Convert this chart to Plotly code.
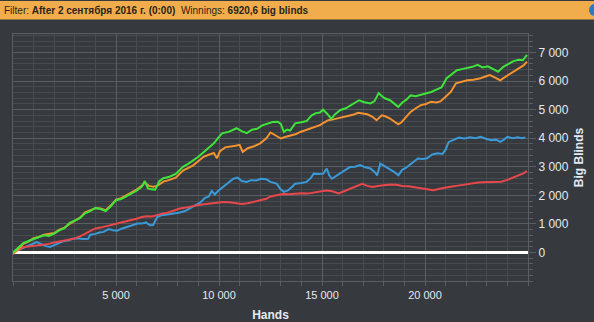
import plotly.graph_objects as go

# ---------------- data ----------------
green_x = [0,250,500,750,1000,1250,1500,1750,2000,2250,2500,2750,3000,3250,3500,3750,4000,4250,4500,4750,
           5000,5250,5500,5750,6000,6250,6400,6550,6700,6900,7100,7300,7600,7900,8250,8500,8750,9000,9250,9500,
           9750,10000,10150,10500,10850,11100,11350,11600,11850,12100,12350,12600,12850,13000,13150,13300,13450,13700,14000,14250,
           14500,14700,14900,15050,15250,15450,15650,15900,16150,16400,16650,16800,17050,17350,17550,17750,17900,18050,18300,18500,
           18700,18900,19100,19300,19550,19800,20050,20300,20550,20800,21050,21300,21550,21800,22050,22300,22550,22800,23050,23300,
           23550,23800,24050,24300,24550,24750,24950]
green_y = [0,150,330,400,470,520,600,580,660,770,850,1040,1110,1200,1370,1450,1560,1520,1450,1620,
           1830,1870,1960,2060,2160,2300,2500,2240,2210,2200,2500,2600,2650,2750,3000,3100,3220,3350,3510,3680,
           3820,4050,4170,4230,4350,4250,4180,4300,4330,4450,4520,4570,4580,4500,4220,4300,4270,4520,4560,4600,
           4800,4880,4900,5000,4860,4680,4850,4990,5050,5160,5280,5330,5260,5220,5300,5580,5480,5400,5330,5200,
           5100,5250,5350,5500,5470,5520,5560,5620,5700,5780,6100,6250,6380,6420,6460,6500,6570,6480,6520,6430,
           6330,6500,6600,6700,6750,6730,6920]

orange_x = [0,250,500,750,1000,1250,1500,1750,2000,2250,2500,2750,3000,3250,3500,3750,4000,4250,4500,4750,
            5000,5250,5500,5750,6000,6250,6400,6600,6800,7000,7300,7600,7900,8250,8500,8750,9000,9250,9500,9750,
            9900,10050,10300,10550,10800,11000,11150,11400,11700,12000,12300,12500,12750,13000,13250,13500,13750,13950,14200,14450,
            14700,14900,15100,15300,15550,15750,16000,16200,16500,16750,17000,17200,17450,17650,17900,18100,18300,18500,18700,18850,
            19050,19300,19550,19800,20050,20300,20550,20750,21000,21250,21500,21800,22050,22350,22700,23000,23150,23400,23650,23900,
            24150,24400,24600,24800,24950]
orange_y = [-50,100,300,380,500,540,620,650,680,800,870,1000,1100,1220,1400,1470,1550,1540,1480,1650,
            1850,1900,2000,2100,2200,2330,2450,2330,2300,2330,2480,2540,2620,2870,2950,3050,3200,3350,3420,3480,
            3300,3550,3680,3700,3740,3770,3520,3650,3720,3820,4000,4200,4100,3990,4050,4100,4150,4220,4280,4340,
            4400,4460,4550,4630,4660,4690,4720,4750,4820,4890,4870,4840,4750,4630,4800,4760,4690,4600,4490,4550,
            4700,4920,5050,5160,5200,5280,5250,5290,5450,5620,5920,5980,6030,6050,6100,6180,6210,6120,6030,6150,
            6270,6380,6470,6560,6680]

blue_x = [0,250,500,750,1000,1150,1400,1600,1800,2000,2150,2400,2650,2900,3150,3400,3650,3750,4000,4200,
          4400,4650,4850,5050,5300,5550,5800,6050,6250,6450,6650,6800,7000,7200,7500,7800,8100,8350,8600,8850,
          9100,9300,9500,9650,9800,9950,10200,10450,10700,10900,11100,11350,11550,11800,12050,12300,12500,12800,13000,13150,
          13350,13550,13700,14000,14250,14450,14600,14850,15070,15230,15350,15480,15700,15900,16150,16350,16600,16850,17100,17350,
          17550,17680,17830,18050,18250,18500,18710,18900,19050,19250,19450,19650,19900,20100,20350,20600,20850,21000,21150,21400,
          21650,21900,22200,22450,22700,22950,23200,23450,23650,23850,24000,24250,24500,24700,24870]
blue_y = [0,80,150,250,330,360,280,220,190,260,300,380,420,480,500,470,480,620,650,700,
          720,820,780,760,840,890,950,1010,1010,1050,950,960,1240,1300,1330,1360,1400,1450,1560,1650,
          1750,1900,1960,2150,2030,2150,2300,2420,2580,2620,2500,2470,2530,2520,2580,2560,2470,2410,2200,2120,
          2170,2300,2410,2430,2470,2600,2760,2750,2760,2940,2700,2580,2680,2760,2880,2990,3000,3060,2980,2940,
          2820,2700,3110,3020,2940,2820,2700,2900,2950,3060,3180,3290,3270,3300,3430,3470,3450,3600,3870,3950,
          4020,3990,4030,4000,4050,3980,3930,3950,3870,3960,4050,4000,4030,4000,4030]

red_x = [0,250,500,750,1000,1250,1500,1750,2000,2250,2500,2750,3000,3250,3500,3750,4000,4250,4500,4750,
         5000,5250,5500,5750,6000,6250,6500,6750,7000,7250,7500,7800,8100,8400,8700,9000,9300,9600,9900,10200,
         10500,10800,11100,11400,11700,12000,12300,12500,12800,13100,13400,13700,14000,14300,14600,14900,15200,15500,15800,16100,
         16400,16700,16950,17200,17450,17700,18000,18300,18600,18900,19200,19500,19800,20100,20400,20700,21000,21300,21600,21900,
         22200,22500,22800,23100,23400,23700,24000,24300,24600,24800,24950]
red_y = [0,100,180,210,230,250,270,300,350,380,410,450,490,560,650,760,840,870,920,960,
         1000,1050,1090,1130,1180,1240,1270,1260,1320,1360,1390,1470,1540,1570,1620,1660,1690,1720,1740,1770,
         1760,1720,1700,1720,1770,1820,1880,1960,2010,2050,2040,2060,2070,2060,2100,2140,2170,2140,2070,2150,
         2230,2330,2400,2330,2290,2330,2350,2380,2370,2330,2320,2280,2240,2200,2180,2230,2280,2310,2340,2380,
         2420,2440,2460,2470,2460,2480,2540,2620,2700,2780,2850]

y_tick_vals = [0, 1000, 2000, 3000, 4000, 5000, 6000, 7000]
y_tick_text = ["0", "1 000", "2 000", "3 000", "4 000", "5 000", "6 000", "7 000"]
x_tick_vals = [5000, 10000, 15000, 20000]
x_tick_text = ["5 000", "10 000", "15 000", "20 000"]

# ---------------- figure ----------------
W, H = 594, 322
ML, MR, MT, MB = 13, 66, 34, 41
BG = "#36393d"
MINOR_GRID = "#474b50"
MAJOR_GRID = "#5a5e63"
TXT = "#e4eaf0"
FONT = "Liberation Sans"

fig = go.Figure()
for xs, ys, col in [(blue_x, blue_y, "#3a9ad9"),
                    (red_x, red_y, "#e8484c"),
                    (orange_x, orange_y, "#f4932f"),
                    (green_x, green_y, "#3ee43a")]:
    fig.add_trace(go.Scatter(x=xs, y=ys, mode="lines",
                             line=dict(color=col, width=2), hoverinfo="skip",
                             showlegend=False))

pw = W - ML - MR
ph = H - MT - MB
def py2paper(py):
    return (H - MB - py) / ph
def px2paper(px):
    return (px - ML) / pw

fig.add_shape(type="rect", xref="paper", yref="paper",
              x0=px2paper(0), x1=px2paper(W), y0=py2paper(19.5), y1=py2paper(1),
              fillcolor="#f1ad4b", line=dict(width=0), layer="above")
fig.add_shape(type="circle", xref="paper", yref="paper",
              x0=px2paper(589), x1=px2paper(601), y0=py2paper(16), y1=py2paper(4),
              fillcolor="#2a78c8", line=dict(width=0), layer="above")
fig.add_annotation(xref="paper", yref="paper", x=px2paper(2), y=py2paper(10.5),
                   xanchor="left", yanchor="middle", showarrow=False,
                   text="Filter: <b>After 2 сентября 2016 г. (0:00)</b>  Winnings: <b>6920,6 big blinds</b>",
                   font=dict(family=FONT, size=10, color="#2b2418"))

fig.update_layout(
    width=W, height=H,
    margin=dict(l=ML, r=MR, t=MT, b=MB, autoexpand=False),
    paper_bgcolor=BG, plot_bgcolor=BG,
    font=dict(family=FONT, color=TXT, size=11),
    xaxis=dict(range=[0, 25000], tickmode="array", tickvals=x_tick_vals, ticktext=x_tick_text,
               automargin=False,
               ticks="outside", ticklen=4, tickcolor=MAJOR_GRID,
               showgrid=True, gridcolor=MAJOR_GRID, gridwidth=1,
               showline=True, linecolor=MAJOR_GRID, mirror=True, zeroline=False,
               tickfont=dict(family=FONT, size=11, color=TXT),
               title=dict(text="<b>Hands</b>", font=dict(family=FONT, size=12, color=TXT), standoff=10),
               minor=dict(dtick=1000, tick0=0, ticks="outside", ticklen=4, tickcolor=MAJOR_GRID,
                          showgrid=True, gridcolor=MINOR_GRID, gridwidth=1)),
    yaxis=dict(range=[-1000, 7650], side="right", tickmode="array", tickvals=y_tick_vals,
               automargin=False,
               ticktext=y_tick_text, ticks="outside", ticklen=7, tickcolor=MAJOR_GRID,
               showgrid=True, gridcolor=MAJOR_GRID, gridwidth=1,
               showline=True, linecolor=MAJOR_GRID, mirror=True,
               zeroline=True, zerolinecolor="#ffffff", zerolinewidth=3,
               tickfont=dict(family=FONT, size=12, color=TXT),
               title=dict(text="<b>Big Blinds</b>", font=dict(family=FONT, size=12, color=TXT), standoff=6),
               minor=dict(dtick=200, tick0=0, ticks="outside", ticklen=4, tickcolor=MAJOR_GRID,
                          showgrid=True, gridcolor=MINOR_GRID, gridwidth=1)),
)

fig.write_html("out.html")
